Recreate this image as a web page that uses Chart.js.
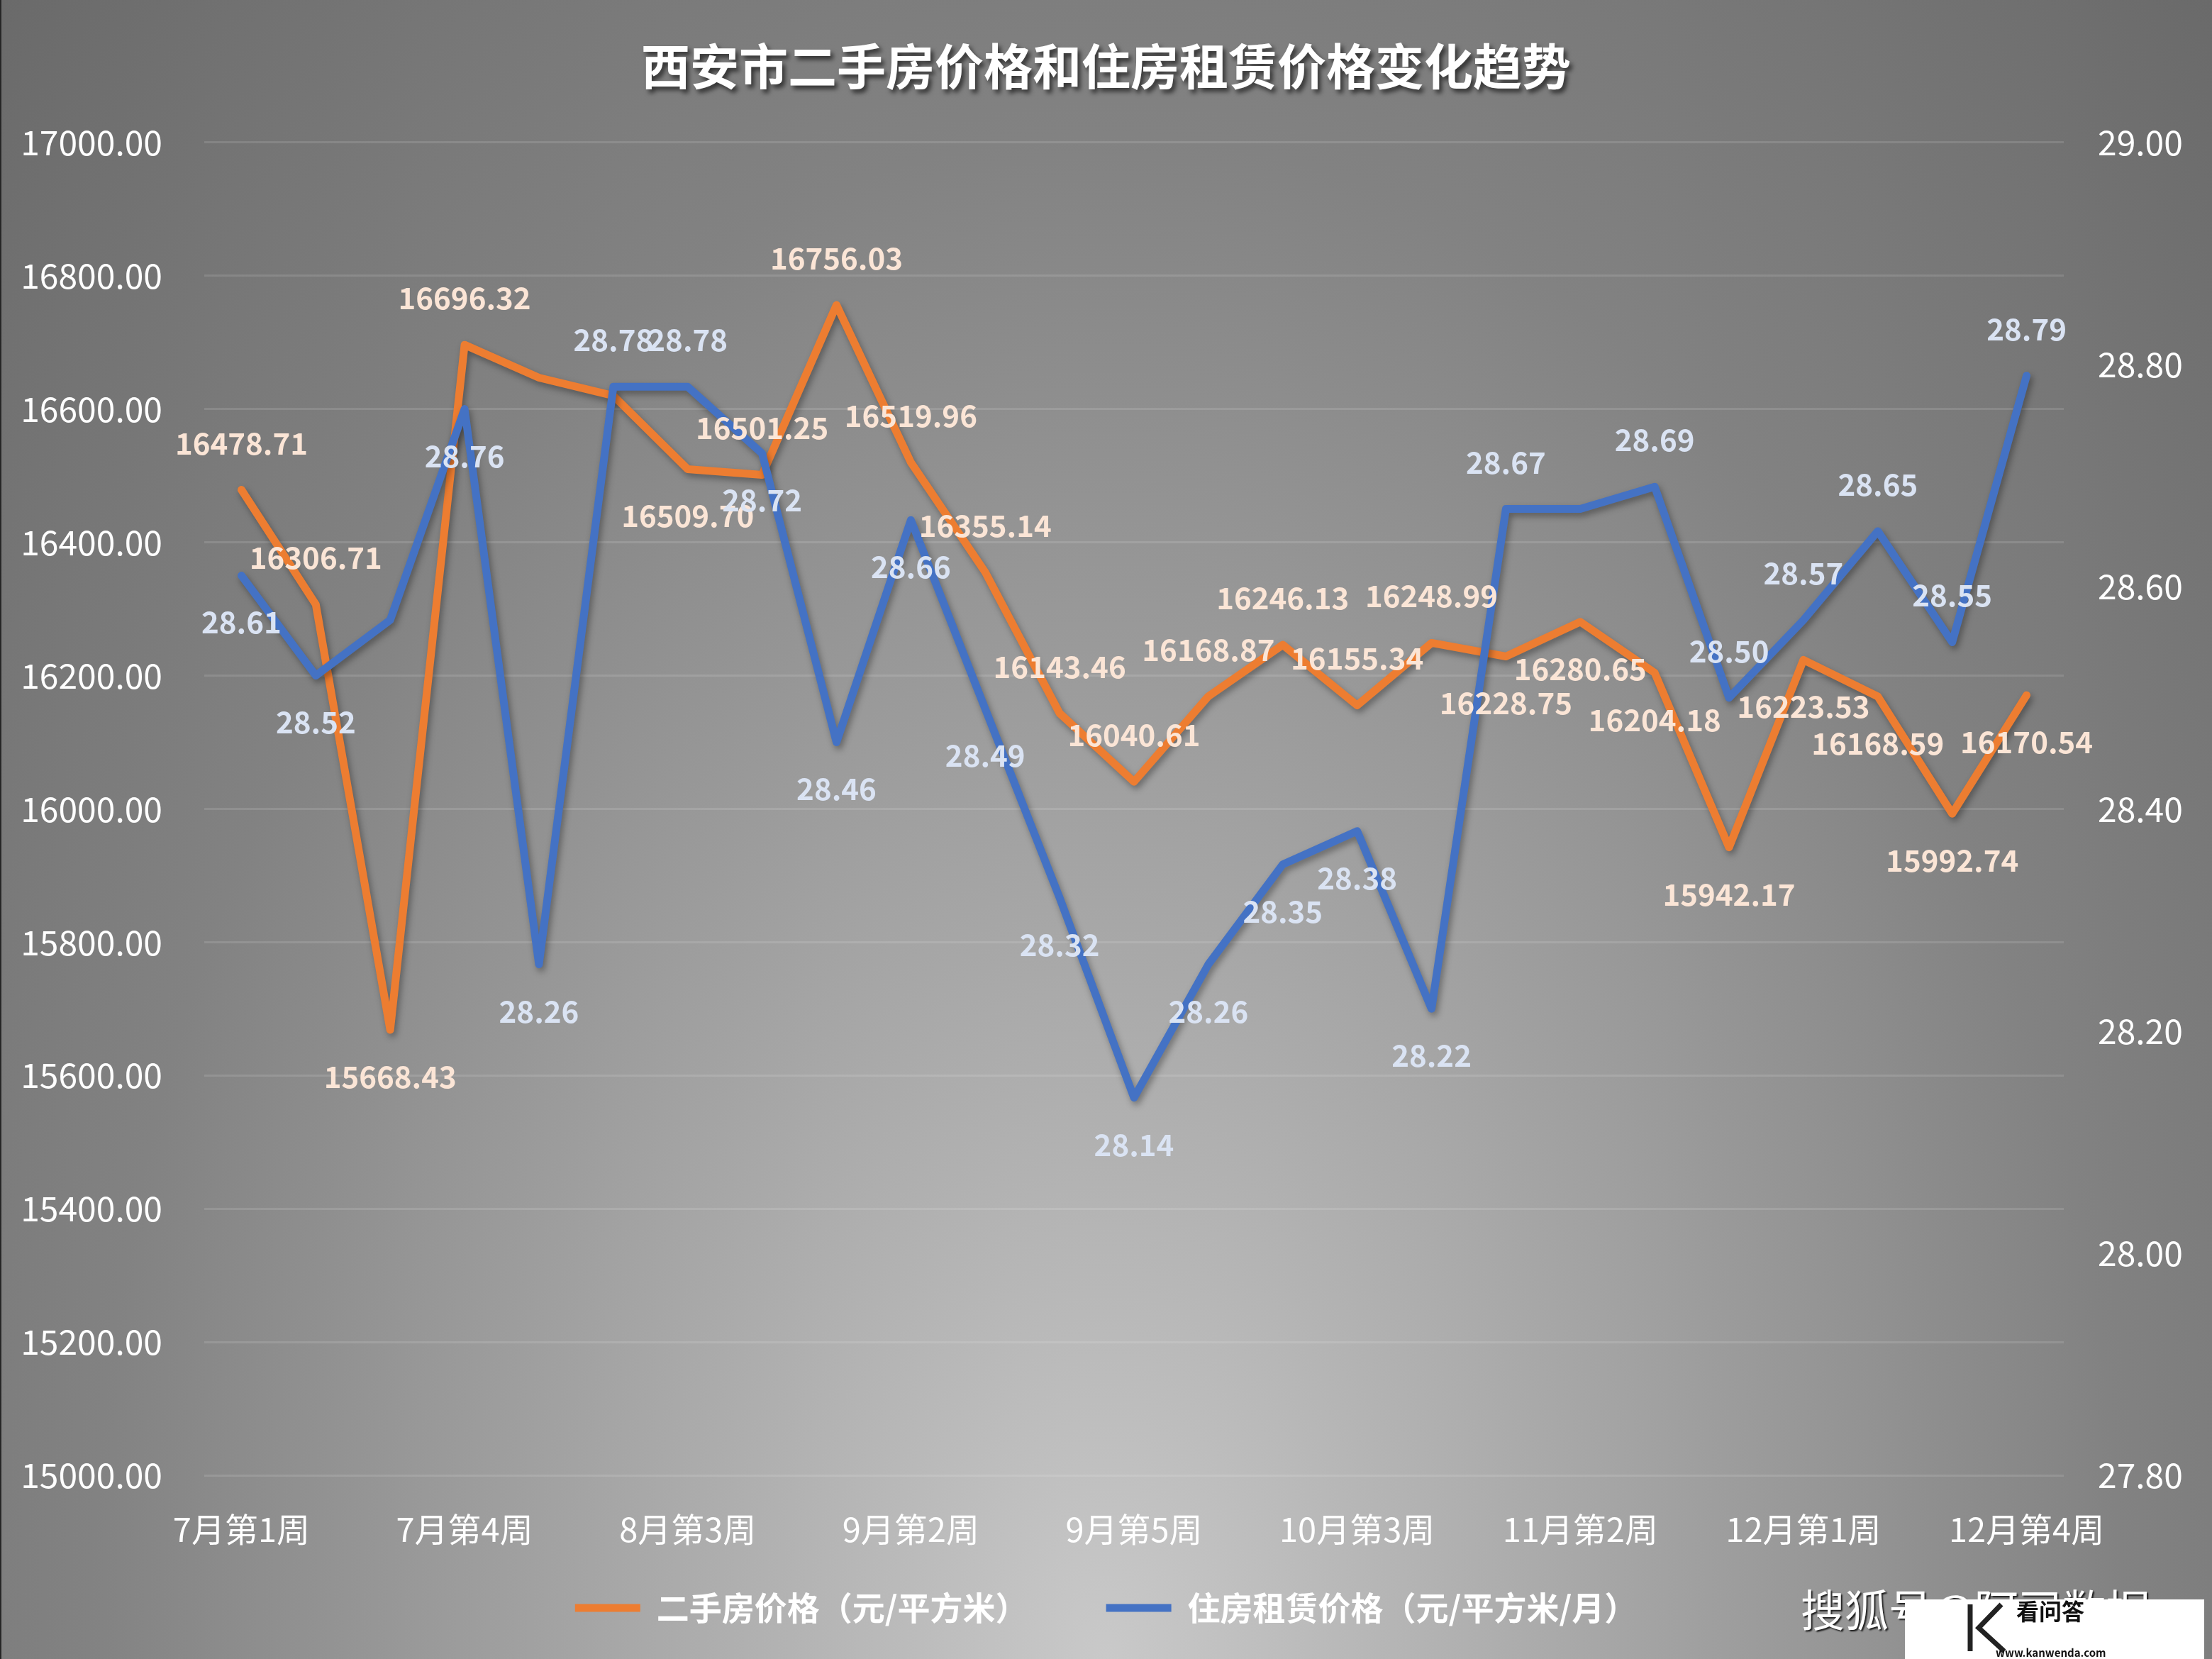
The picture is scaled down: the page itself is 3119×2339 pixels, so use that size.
<!DOCTYPE html>
<html>
<head>
<meta charset="utf-8">
<script src="https://cdn.jsdelivr.net/npm/chart.js@4/dist/chart.umd.min.js"></script>
<style>
html, body { margin: 0; padding: 0; }
body {
    width: 3119px; height: 2339px; overflow: hidden;
    background: radial-gradient(farthest-corner at 50% 100%, #c9c9c9 0%, #a3a3a3 35%, #828282 65%, #6a6a6a 100%);
}
#wrap { position: relative; width: 3119px; height: 2339px; }
</style>
</head>
<body>
<div id="wrap"><canvas id="trendChart" width="3119" height="2339"></canvas></div>
<script>
const weeks = ['7月第1周','7月第2周','7月第3周','7月第4周','8月第1周','8月第2周','8月第3周','8月第4周',
    '9月第1周','9月第2周','9月第3周','9月第4周','9月第5周','10月第1周','10月第2周','10月第3周','10月第4周',
    '11月第1周','11月第2周','11月第3周','11月第4周','12月第1周','12月第2周','12月第3周','12月第4周'];
const housePrice = [16478.71,16306.71,15668.43,16696.32,16647.00,16620.00,16509.70,16501.25,16756.03,16519.96,
    16355.14,16143.46,16040.61,16168.87,16246.13,16155.34,16248.99,16228.75,16280.65,16204.18,15942.17,16223.53,
    16168.59,15992.74,16170.54];
const rentPrice = [28.61,28.52,28.57,28.76,28.26,28.78,28.78,28.72,28.46,28.66,28.49,28.32,28.14,28.26,28.35,
    28.38,28.22,28.67,28.67,28.69,28.50,28.57,28.65,28.55,28.79];
const priceAxis = [15000, 17000, 200];   // min, max, step
const rentAxis = [27.8, 29.0, 0.2];

// where each value label sits: 1 above the point, -1 below, 0 no label
const priceLabelSide = [1,1,-1,1,0,0,-1,1,1,1,1,1,1,1,1,1,1,-1,-1,-1,-1,-1,-1,-1,-1];
const rentLabelSide = [-1,-1,0,-1,-1,1,1,-1,-1,-1,-1,-1,-1,-1,-1,-1,-1,1,0,1,1,1,1,1,1];

const FONT = '"Noto Sans CJK SC", "Noto Sans", sans-serif';
const ORANGE = '#ED7D31';
const BLUE = '#4472C4';

const decor = {
    id: 'decor',
    beforeDraw(chart) {
        const ctx = chart.ctx;
        ctx.save();
        ctx.fillStyle = '#262626';
        ctx.fillRect(0, 0, 2, chart.height);
        ctx.restore();
        const tb = chart.titleBlock;
        if (tb && !tb._shadowed) {
            const orig = tb.draw.bind(tb);
            tb.draw = function(area) {
                const c = this.ctx;
                c.save();
                c.shadowColor = 'rgba(0,0,0,0.6)';
                c.shadowBlur = 6;
                c.shadowOffsetX = 4;
                c.shadowOffsetY = 5;
                orig(area);
                c.restore();
            };
            tb._shadowed = true;
        }
    },
    beforeDatasetDraw(chart) {
        const ctx = chart.ctx;
        ctx.save();
        ctx.shadowColor = 'rgba(0,0,0,0.35)';
        ctx.shadowBlur = 10;
        ctx.shadowOffsetX = 3;
        ctx.shadowOffsetY = 5;
    },
    afterDatasetDraw(chart) {
        chart.ctx.restore();
    },
    afterDatasetsDraw(chart) {
        const ctx = chart.ctx;
        ctx.save();
        ctx.font = 'bold 42px ' + FONT;
        ctx.textAlign = 'center';
        ctx.textBaseline = 'middle';
        chart.data.datasets.forEach((ds, di) => {
            const meta = chart.getDatasetMeta(di);
            const sides = di === 0 ? priceLabelSide : rentLabelSide;
            ctx.fillStyle = di === 0 ? '#FBE5D6' : '#DAE3F3';
            meta.data.forEach((pt, i) => {
                if (!sides[i]) return;
                ctx.fillText(ds.data[i].toFixed(2), pt.x, pt.y - sides[i] * 66);
            });
        });
        ctx.restore();
    },
    afterDraw(chart) {
        const ctx = chart.ctx;
        ctx.save();
        // watermark, partly covered by the logo box
        ctx.font = '62px ' + FONT;
        ctx.textAlign = 'left';
        ctx.textBaseline = 'middle';
        ctx.shadowColor = 'rgba(0,0,0,0.8)';
        ctx.shadowOffsetX = 2;
        ctx.shadowOffsetY = 2;
        ctx.shadowBlur = 2;
        ctx.fillStyle = '#ffffff';
        ctx.fillText('搜狐号@阿司数据', 2539, 2270);
        ctx.shadowColor = 'transparent';
        ctx.fillRect(2686, 2255, 422, 84);
        ctx.strokeStyle = '#222';
        ctx.lineWidth = 7;
        ctx.beginPath();
        ctx.moveTo(2778, 2262); ctx.lineTo(2778, 2328);
        ctx.moveTo(2822, 2262); ctx.lineTo(2790, 2295); ctx.lineTo(2826, 2328);
        ctx.stroke();
        ctx.fillStyle = '#111';
        ctx.font = 'bold 32px ' + FONT;
        ctx.fillText('看问答', 2843, 2272);
        ctx.font = 'bold 15px ' + FONT;
        ctx.fillText('www.kanwenda.com', 2814, 2330);
        ctx.restore();
    }
};

const ctx = document.getElementById('trendChart').getContext('2d');
new Chart(ctx, {
    type: 'line',
    data: {
        labels: weeks,
        datasets: [
            { label: '二手房价格（元/平方米）', data: housePrice, yAxisID: 'y', order: 1,
              borderColor: ORANGE, backgroundColor: ORANGE, borderWidth: 11,
              borderCapStyle: 'round', borderJoinStyle: 'round', pointRadius: 0, tension: 0 },
            { label: '住房租赁价格（元/平方米/月）', data: rentPrice, yAxisID: 'y1', order: 0,
              borderColor: BLUE, backgroundColor: BLUE, borderWidth: 11,
              borderCapStyle: 'round', borderJoinStyle: 'round', pointRadius: 0, tension: 0 }
        ]
    },
    options: {
        responsive: false,
        animation: false,
        layout: { padding: { top: 0, left: 0, right: 0, bottom: 39 } },
        plugins: {
            title: {
                display: true,
                text: '西安市二手房价格和住房租赁价格变化趋势',
                color: '#ffffff',
                font: { family: FONT, size: 69, weight: 'bold' },
                padding: { top: 52, bottom: 66 }
            },
            legend: {
                position: 'bottom',
                labels: {
                    usePointStyle: true,
                    pointStyle: 'line',
                    pointStyleWidth: 92,
                    padding: 110,
                    color: '#ffffff',
                    font: { family: FONT, size: 46, weight: 'bold' },
                    sort: (a, b) => a.datasetIndex - b.datasetIndex
                }
            },
            tooltip: { enabled: false }
        },
        scales: {
            x: {
                offset: true,
                grid: { display: false, drawTicks: false },
                border: { display: false },
                ticks: {
                    // mirrored so the labels are not clipped to the thin axis box
                    mirror: true, padding: -104,
                    autoSkip: false, maxRotation: 0, color: '#ffffff',
                    font: { family: FONT, size: 47 },
                    callback: function(v, i) { return i % 3 === 0 ? this.getLabelForValue(v) : ''; }
                },
                afterFit(s) { s.height = 54; }
            },
            y: {
                position: 'left',
                min: priceAxis[0], max: priceAxis[1],
                grid: { color: 'rgba(255,255,255,0.12)', lineWidth: 3, drawTicks: false },
                border: { display: false },
                ticks: {
                    stepSize: priceAxis[2], padding: 59, color: '#ffffff',
                    font: { family: FONT, size: 48 },
                    callback: v => v.toFixed(2)
                },
                afterFit(s) { s.width = 288; }
            },
            y1: {
                position: 'right',
                min: rentAxis[0], max: rentAxis[1],
                grid: { display: false, drawTicks: false },
                border: { display: false },
                ticks: {
                    stepSize: rentAxis[2], padding: 48, color: '#ffffff',
                    font: { family: FONT, size: 48 },
                    callback: v => v.toFixed(2)
                },
                afterFit(s) { s.width = 209; }
            }
        }
    },
    plugins: [decor]
});
</script>
</body>
</html>
